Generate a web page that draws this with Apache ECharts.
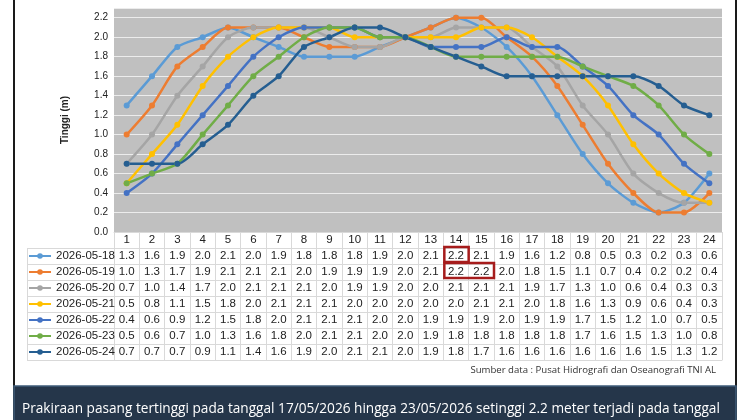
<!DOCTYPE html>
<html>
<head>
<meta charset="utf-8">
<script src="https://cdn.jsdelivr.net/npm/echarts@6/dist/echarts.min.js"></script>
<style>
html,body{margin:0;padding:0;background:#fff;}
#chart{width:750px;height:420px;}
</style>
</head>
<body>
<div id="chart"></div>
<script>
// jam (kategori sumbu x)
var jam = ['1','2','3','4','5','6','7','8','9','10','11','12','13','14','15','16','17','18','19','20','21','22','23','24'];
var tanggal = ['2026-05-18','2026-05-19','2026-05-20','2026-05-21','2026-05-22','2026-05-23','2026-05-24'];
// tinggi pasang per tanggal (m)
var tgl0518 = [1.3,1.6,1.9,2.0,2.1,2.0,1.9,1.8,1.8,1.8,1.9,2.0,2.1,2.2,2.1,1.9,1.6,1.2,0.8,0.5,0.3,0.2,0.3,0.6];
var tgl0519 = [1.0,1.3,1.7,1.9,2.1,2.1,2.1,2.0,1.9,1.9,1.9,2.0,2.1,2.2,2.2,2.0,1.8,1.5,1.1,0.7,0.4,0.2,0.2,0.4];
var tgl0520 = [0.7,1.0,1.4,1.7,2.0,2.1,2.1,2.1,2.0,1.9,1.9,2.0,2.0,2.1,2.1,2.1,1.9,1.7,1.3,1.0,0.6,0.4,0.3,0.3];
var tgl0521 = [0.5,0.8,1.1,1.5,1.8,2.0,2.1,2.1,2.1,2.0,2.0,2.0,2.0,2.0,2.1,2.1,2.0,1.8,1.6,1.3,0.9,0.6,0.4,0.3];
var tgl0522 = [0.4,0.6,0.9,1.2,1.5,1.8,2.0,2.1,2.1,2.1,2.0,2.0,1.9,1.9,1.9,2.0,1.9,1.9,1.7,1.5,1.2,1.0,0.7,0.5];
var tgl0523 = [0.5,0.6,0.7,1.0,1.3,1.6,1.8,2.0,2.1,2.1,2.0,2.0,1.9,1.8,1.8,1.8,1.8,1.8,1.7,1.6,1.5,1.3,1.0,0.8];
var tgl0524 = [0.7,0.7,0.7,0.9,1.1,1.4,1.6,1.9,2.0,2.1,2.1,2.0,1.9,1.8,1.7,1.6,1.6,1.6,1.6,1.6,1.6,1.5,1.3,1.2];
var dataTinggi = [tgl0518,tgl0519,tgl0520,tgl0521,tgl0522,tgl0523,tgl0524];
var warna = ['#5b9bd5','#ed7d31','#a5a5a5','#ffc000','#4472c4','#70ad47','#255e91'];
var sumberText = 'Sumber data : Pusat Hidrografi dan Oseanografi TNI AL';
var keterangan = 'Prakiraan pasang tertinggi pada tanggal 17/05/2026 hingga 23/05/2026 setinggi 2.2 meter terjadi pada tanggal';

var fontTabel = '"Liberation Sans", Arial, sans-serif';
var rowH = 16;        // tinggi baris tabel
var plotBottom = 232; // batas bawah area plot
var tabelLeft = 27;
var gridLeft = 114;
var warnaGaris = '#d9d9d9';

var myChart = echarts.init(document.getElementById('chart'));

// sumbu x utama + satu sumbu untuk tiap baris tabel
var xAxes = [{
    type: 'category',
    data: jam,
    boundaryGap: true,
    position: 'bottom',
    axisLine: {show: true, lineStyle: {color: warnaGaris}},
    axisTick: {show: true, interval: 0, length: rowH, lineStyle: {color: warnaGaris}},
    axisLabel: {interval: 0, margin: 2, lineHeight: 12, color: '#222', fontSize: 11.5, fontFamily: fontTabel}
}];
for (var i = 0; i < dataTinggi.length; i++) {
    (function(row, k){
        xAxes.push({
            type: 'category',
            data: jam,
            boundaryGap: true,
            position: 'bottom',
            offset: rowH * (k + 1),
            axisLine: {show: true, lineStyle: {color: warnaGaris}},
            axisTick: {show: true, interval: 0, length: rowH, lineStyle: {color: warnaGaris}},
            axisLabel: {
                interval: 0, margin: 2, lineHeight: 12, color: '#222', fontSize: 11.5, fontFamily: fontTabel,
                formatter: function(v, idx){ return row[idx].toFixed(1); }
            }
        });
    })(dataTinggi[i], i);
}
// garis bawah tabel
xAxes.push({
    type: 'category', data: jam, position: 'bottom', offset: rowH * (dataTinggi.length + 1),
    axisLine: {show: true, lineStyle: {color: warnaGaris}},
    axisTick: {show: false}, axisLabel: {show: false}
});

var seriesList = [];
for (var s = 0; s < dataTinggi.length; s++) {
    seriesList.push({
        name: tanggal[s],
        type: 'line',
        data: dataTinggi[s],
        smooth: 0.25,
        symbol: 'circle',
        symbolSize: 6,
        lineStyle: {width: 2.5, color: warna[s]},
        itemStyle: {color: warna[s]}
    });
}

var option = {
    animation: false,
    grid: {
        left: gridLeft, right: 28, top: 8, bottom: 420 - plotBottom,
        show: true, backgroundColor: '#c0c0c0', borderWidth: 0
    },
    legend: {
        orient: 'vertical',
        left: tabelLeft + 1,
        top: plotBottom + rowH + 2,
        padding: 0,
        itemWidth: 22,
        itemHeight: 7,
        itemGap: 4,
        data: tanggal,
        textStyle: {fontSize: 11.5, lineHeight: 12, color: '#222', fontFamily: fontTabel}
    },
    xAxis: xAxes,
    yAxis: {
        type: 'value',
        min: 0,
        max: 2.3,
        interval: 0.2,
        name: 'Tinggi (m)',
        nameLocation: 'middle',
        nameGap: 44,
        nameTextStyle: {fontSize: 10, fontWeight: 'bold', color: '#222', fontFamily: fontTabel},
        axisLine: {show: false},
        axisTick: {show: false},
        splitLine: {lineStyle: {color: '#ececec', width: 1}},
        axisLabel: {
            margin: 6, color: '#222', fontSize: 10, fontFamily: fontTabel, showMaxLabel: false,
            formatter: function(v){ return v.toFixed(1); }
        }
    },
    series: seriesList
};
myChart.setOption(option);

// garis kolom kiri tabel, kotak merah, bingkai, keterangan
var g = [];
var nRows = dataTinggi.length;
for (var r = 0; r <= nRows; r++) {
    var yy = plotBottom + rowH * (r + 1) + 0.5;
    g.push({type: 'line', shape: {x1: tabelLeft, y1: yy, x2: gridLeft, y2: yy}, style: {stroke: warnaGaris, lineWidth: 1}});
}
g.push({type: 'line', shape: {x1: tabelLeft + 0.5, y1: plotBottom + rowH, x2: tabelLeft + 0.5, y2: plotBottom + rowH * (nRows + 1)}, style: {stroke: warnaGaris, lineWidth: 1}});

// kotak merah di nilai tertinggi
var maxVal = 0;
dataTinggi.forEach(function(row){ row.forEach(function(v){ if (v > maxVal) maxVal = v; }); });
var x0 = myChart.convertToPixel({xAxisIndex: 0}, jam[0]);
var x1 = myChart.convertToPixel({xAxisIndex: 0}, jam[1]);
var cellW = x1 - x0;
dataTinggi.forEach(function(row, k){
    var j = 0;
    while (j < row.length) {
        if (row[j] === maxVal) {
            var st = j;
            while (j + 1 < row.length && row[j + 1] === maxVal) j++;
            var cs = myChart.convertToPixel({xAxisIndex: 0}, jam[st]);
            var ce = myChart.convertToPixel({xAxisIndex: 0}, jam[j]);
            g.push({type: 'rect', z: 100,
                shape: {x: cs - cellW / 2 + 1, y: plotBottom + rowH * (k + 1) - 1, width: ce - cs + cellW - 1, height: rowH - 1},
                style: {fill: 'none', stroke: '#a61c1c', lineWidth: 2.5}});
        }
        j++;
    }
});

g.push({type: 'text', style: {text: sumberText, x: 716, y: 370, align: 'right', verticalAlign: 'middle', fill: '#333', font: '9.6px "Open Sans", sans-serif'}});
g.push({type: 'line', shape: {x1: 14, y1: 0, x2: 14, y2: 420}, style: {stroke: '#1a1a1a', lineWidth: 2}});
g.push({type: 'line', shape: {x1: 736, y1: 0, x2: 736, y2: 420}, style: {stroke: '#1a1a1a', lineWidth: 2}});
g.push({type: 'rect', shape: {x: 14, y: 386, width: 722, height: 40}, style: {fill: '#25364a', stroke: '#3f5c7a', lineWidth: 1.5}});
g.push({type: 'text', style: {text: keterangan, x: 22, y: 409, verticalAlign: 'middle', fill: '#ffffff', font: '13.65px "Open Sans", sans-serif'}});

myChart.setOption({graphic: g});
</script>
</body>
</html>
